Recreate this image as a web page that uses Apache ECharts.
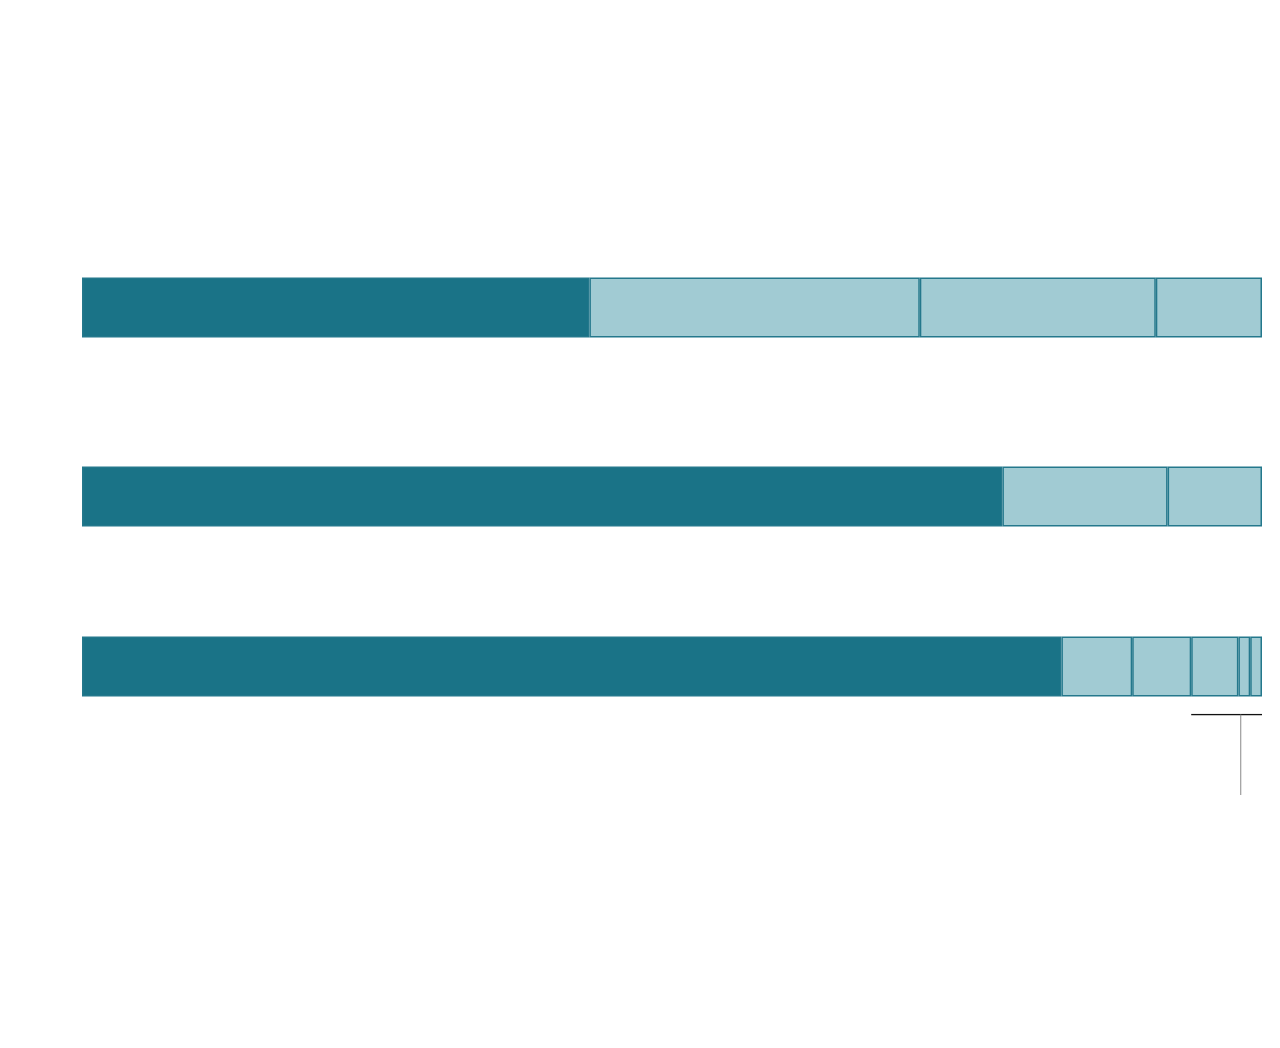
<!DOCTYPE html>
<html>
<head>
<meta charset="utf-8">
<script src="https://cdn.jsdelivr.net/npm/echarts@6/dist/echarts.min.js"></script>
<style>html,body{margin:0;padding:0;background:#fff;}#c{width:1280px;height:1048px;}</style>
</head>
<body>
<div id="c"></div>
<script>
// Segment shares (%) of each bar, left to right
const bar1 = [43, 28, 20, 9];
const bar2 = [78, 14, 8];
const bar3 = [83, 6, 5, 4, 1, 1];
const bars = [bar1, bar2, bar3];
// Annotation bracket below bar 3 (x values in %)
const bracketH = [[94, 0], [100, 0]];
const bracketV = [[98.2, 0], [98.2, 1]];

const DARK = '#1a7387';
const LIGHT = '#a1cbd3';
const EDGE = '#24788c';

const gridTops = [277, 466, 636];
const grids = gridTops.map(t => ({ left: 82, right: 18, top: t, height: 61 }));
grids.push({ left: 82, right: 18, top: 714.5, height: 80.5 });

const xAxes = grids.map((g, i) => ({ type: 'value', gridIndex: i, min: 0, max: 100, show: false }));
const yAxes = [0, 1, 2].map(i => ({ type: 'category', gridIndex: i, data: ['b' + i], show: false }));
yAxes.push({ type: 'value', gridIndex: 3, min: 0, max: 1, inverse: true, show: false });

const series = [];
bars.forEach((arr, bi) => {
  arr.forEach((v, si) => {
    series.push({
      type: 'bar', xAxisIndex: bi, yAxisIndex: bi, stack: 's' + bi,
      barWidth: 60, data: [v], silent: true,
      itemStyle: { color: si === 0 ? DARK : LIGHT, borderColor: EDGE, borderWidth: 1.5 }
    });
  });
});
series.push({
  type: 'line', xAxisIndex: 3, yAxisIndex: 3, data: bracketH, symbol: 'none', silent: true,
  lineStyle: { color: '#111', width: 1.5 }
});
series.push({
  type: 'line', xAxisIndex: 3, yAxisIndex: 3, data: bracketV, symbol: 'none', silent: true,
  lineStyle: { color: '#888', width: 1 }
});

const chart = echarts.init(document.getElementById('c'), null, { renderer: 'canvas' });
chart.setOption({
  animation: false,
  backgroundColor: '#fff',
  grid: grids, xAxis: xAxes, yAxis: yAxes, series: series
});
</script>
</body>
</html>
